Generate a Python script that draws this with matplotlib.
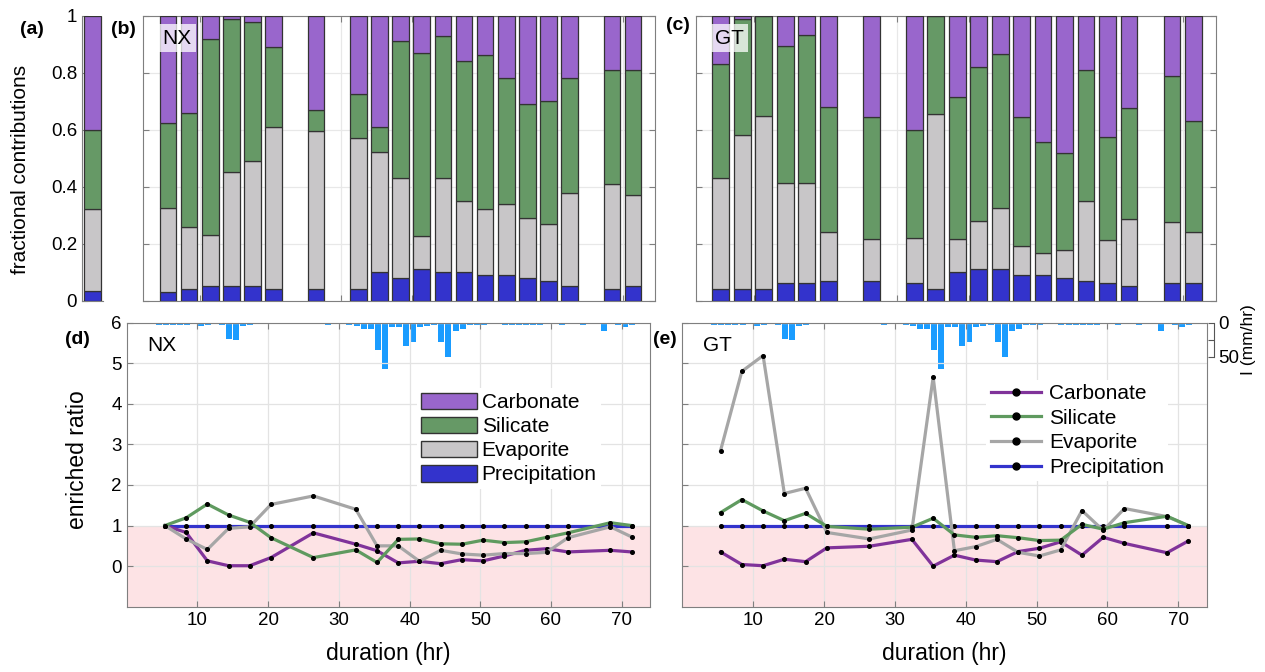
import matplotlib
matplotlib.use('Agg')
import matplotlib.pyplot as plt
import numpy as np
from matplotlib.patches import Patch
from matplotlib.lines import Line2D

plt.rcParams['font.family'] = ['Liberation Sans', 'DejaVu Sans']

# sampling times (hr)
duration = [5.4, 8.4, 11.4, 14.4, 17.4, 20.4, 26.4, 32.4, 35.4, 38.4,
            41.4, 44.4, 47.4, 50.4, 53.4, 56.4, 59.4, 62.4, 68.4, 71.4]

# panel (a): single bar
a_prec, a_evap, a_sil, a_carb = 0.035, 0.285, 0.28, 0.40

# fractional contributions, NX
nx_prec = [0.029, 0.041, 0.051, 0.051, 0.051, 0.041, 0.041, 0.041, 0.099, 0.081,
           0.11, 0.099, 0.099, 0.09, 0.09, 0.081, 0.069, 0.051, 0.041, 0.051]
nx_evap = [0.295, 0.219, 0.178, 0.399, 0.438, 0.568, 0.555, 0.529, 0.421, 0.348,
           0.118, 0.33, 0.251, 0.23, 0.249, 0.208, 0.2, 0.328, 0.369, 0.319]
nx_sil = [0.298, 0.397, 0.689, 0.538, 0.49, 0.28, 0.073, 0.157, 0.088, 0.481,
          0.642, 0.5, 0.49, 0.541, 0.441, 0.4, 0.431, 0.401, 0.399, 0.439]
nx_carb = [0.378, 0.343, 0.082, 0.012, 0.021, 0.111, 0.331, 0.273, 0.392, 0.09,
           0.13, 0.071, 0.16, 0.139, 0.22, 0.311, 0.30, 0.22, 0.191, 0.191]

# fractional contributions, GT
gt_prec = [0.041, 0.041, 0.041, 0.061, 0.061, 0.07, 0.07, 0.061, 0.041, 0.10,
           0.11, 0.11, 0.09, 0.09, 0.081, 0.07, 0.061, 0.051, 0.061, 0.061]
gt_evap = [0.391, 0.54, 0.608, 0.352, 0.352, 0.17, 0.145, 0.159, 0.614, 0.115,
           0.171, 0.214, 0.103, 0.077, 0.097, 0.279, 0.152, 0.236, 0.216, 0.179]
gt_sil = [0.397, 0.407, 0.351, 0.481, 0.519, 0.438, 0.428, 0.379, 0.345, 0.498,
          0.54, 0.54, 0.453, 0.389, 0.339, 0.46, 0.36, 0.39, 0.51, 0.39]
gt_carb = [0.171, 0.012, 0.0, 0.106, 0.068, 0.322, 0.357, 0.401, 0.0, 0.287,
           0.179, 0.136, 0.354, 0.444, 0.483, 0.191, 0.427, 0.323, 0.213, 0.37]

# enriched ratios, NX
nx_r_carb = [1.0, 0.83, 0.13, 0.01, 0.01, 0.21, 0.82, 0.54, 0.38, 0.08,
             0.12, 0.06, 0.16, 0.13, 0.25, 0.39, 0.43, 0.35, 0.39, 0.35]
nx_r_sil = [1.0, 1.19, 1.53, 1.26, 1.08, 0.70, 0.21, 0.40, 0.09, 0.66,
            0.67, 0.55, 0.54, 0.64, 0.58, 0.60, 0.71, 0.82, 1.07, 1.0]
nx_r_evap = [1.0, 0.67, 0.41, 0.93, 0.97, 1.52, 1.73, 1.40, 0.50, 0.50,
             0.12, 0.39, 0.30, 0.27, 0.31, 0.31, 0.34, 0.70, 0.97, 0.72]
nx_r_prec = [1.0] * 20

# enriched ratios, GT
gt_r_carb = [0.35, 0.04, 0.01, 0.17, 0.11, 0.45, 0.49, 0.66, 0.0, 0.27,
             0.15, 0.11, 0.36, 0.44, 0.60, 0.27, 0.71, 0.56, 0.33, 0.62]
gt_r_sil = [1.32, 1.64, 1.36, 1.12, 1.30, 0.98, 0.91, 0.96, 1.18, 0.77,
            0.71, 0.75, 0.70, 0.63, 0.64, 1.03, 0.91, 1.07, 1.23, 1.0]
gt_r_evap = [2.85, 4.80, 5.19, 1.79, 1.92, 0.83, 0.67, 0.89, 4.66, 0.38,
             0.48, 0.66, 0.34, 0.25, 0.40, 1.37, 0.88, 1.42, 1.22, 1.0]
gt_r_prec = [1.0] * 20

# rainfall intensity (mm/hr), hourly bars
rain_hour = [4, 5, 6, 7, 8, 10, 11, 13, 14, 15, 16, 17, 28, 31, 32, 33, 34, 35, 36,
             37, 38, 39, 40, 41, 42, 43, 44, 45, 46, 47, 48, 49, 50, 53, 54, 55, 56,
             57, 58, 61, 64, 67, 69, 70, 71]
rain_rate = [3.5, 3.5, 3.5, 3.5, 3.5, 5.5, 4, 3.5, 24, 26, 5, 3.5, 3.5, 3.5, 5.5, 10, 10, 40, 68,
             6, 6, 35, 28, 7, 4.5, 3.5, 28, 51, 12, 10, 3.5, 3.5, 3.5, 3.5, 3.5, 3.5, 3.5,
             3.5, 3.5, 4, 3.5, 12, 3.5, 7, 3.5]

c_carb, c_sil, c_evap, c_prec = '#9966cc', '#669966', '#c8c6c8', '#3333cc'
l_carb, l_sil, l_evap, l_prec = '#80339a', '#5f9a5f', '#a6a6a6', '#3333cc'
spine_c = '#7f7f7f'

W, H = 1265, 672
fig = plt.figure(figsize=(W / 100, H / 100), dpi=100)


def px_axes(x0, y0, x1, y1):
    return fig.add_axes([x0 / W, 1 - y1 / H, (x1 - x0) / W, (y1 - y0) / H])


def style(ax):
    for s in ax.spines.values():
        s.set_color(spine_c)
    ax.tick_params(direction='in', colors=spine_c, labelcolor='black',
                   labelsize=13.5, length=4, top=True, right=True)


def stack(ax, x, prec, evap, sil, carb, w):
    prec, evap, sil, carb = map(np.array, (prec, evap, sil, carb))
    kw = dict(width=w, edgecolor='#333333', linewidth=0.9, zorder=3)
    ax.bar(x, prec, color=c_prec, **kw)
    ax.bar(x, evap, bottom=prec, color=c_evap, **kw)
    ax.bar(x, sil, bottom=prec + evap, color=c_sil, **kw)
    ax.bar(x, carb, bottom=prec + evap + sil, color=c_carb, **kw)


# panel (a)
ax_a = px_axes(82, 15.7, 103, 300.7)
stack(ax_a, [0], [a_prec], [a_evap], [a_sil], [a_carb], 0.83)
ax_a.set_xlim(-0.5, 0.5)
ax_a.set_ylim(0, 1)
ax_a.set_xticks([])
ax_a.set_yticks([0, 0.2, 0.4, 0.6, 0.8, 1])
ax_a.set_yticklabels(['0', '0.2', '0.4', '0.6', '0.8', '1'])
style(ax_a)
ax_a.tick_params(right=False, top=False)
ax_a.spines['top'].set_visible(False)
ax_a.spines['right'].set_visible(False)

# panels (b), (c)
for (x0, x1), data, tag in [((143.3, 655), (nx_prec, nx_evap, nx_sil, nx_carb), 'NX'),
                            ((695.7, 1215.7), (gt_prec, gt_evap, gt_sil, gt_carb), 'GT')]:
    ax = px_axes(x0, 15.7, x1, 300.7)
    stack(ax, duration, *data, 2.35)
    ax.set_xlim(1.9, 74.5)
    ax.set_ylim(0, 1)
    ax.set_xticks(range(10, 80, 10))
    ax.set_yticks([0, 0.2, 0.4, 0.6, 0.8, 1])
    ax.grid(color='#e8e8e8', linewidth=0.9, zorder=0)
    ax.set_axisbelow(True)
    style(ax)
    ax.tick_params(labelbottom=False, labelleft=False)
    ax.text(0.037, 0.955, tag, transform=ax.transAxes, fontsize=15, va='top', ha='left',
            zorder=6, bbox=dict(facecolor='white', alpha=0.75, edgecolor='none', pad=3))

# panels (d), (e)
series = [('Carbonate', l_carb, c_carb), ('Silicate', l_sil, c_sil),
          ('Evaporite', l_evap, c_evap), ('Precipitation', l_prec, c_prec)]
bottom_axes = []
for (x0, x1), ratios, tag in [((126.7, 650), (nx_r_carb, nx_r_sil, nx_r_evap, nx_r_prec), 'NX'),
                              ((682.3, 1206.7), (gt_r_carb, gt_r_sil, gt_r_evap, gt_r_prec), 'GT')]:
    ax = px_axes(x0, 322.7, x1, 606.7)
    ax.axhspan(-1, 1, color='#fde3e5', zorder=0, linewidth=0)
    # precipitation first so it sits below the others
    for i in [3, 0, 2, 1]:
        name, lc, _ = series[i]
        ax.plot(duration, ratios[i], color=lc, linewidth=2.3, zorder=3 + (i != 3),
                marker='o', markersize=2.6, markerfacecolor='black', markeredgecolor='black')
    ax.set_xlim(0, 74)
    ax.set_ylim(-1, 6)
    ax.set_xticks(range(10, 80, 10))
    ax.set_yticks(range(0, 7))
    ax.grid(color='#e3e3e3', linewidth=0.9, zorder=1)
    ax.set_axisbelow(True)
    style(ax)
    ax.set_xlabel('duration (hr)', fontsize=16.5, labelpad=10)
    ax.text(0.04, 0.92, tag, transform=ax.transAxes, fontsize=15, va='center', ha='left')

    rx = ax.twinx()
    rx.bar(np.array(rain_hour) + 0.5, rain_rate, width=0.85, color='#1a9cff', zorder=2)
    rx.set_ylim(418, 0)
    rx.set_xlim(0, 74)
    bottom_axes.append((ax, rx))

ax_d, rx_d = bottom_axes[0]
ax_e, rx_e = bottom_axes[1]
ax_e.tick_params(labelleft=False)

rx_d.set_yticks([])
for s in rx_d.spines.values():
    s.set_visible(False)

for s in ['top', 'left', 'bottom']:
    rx_e.spines[s].set_visible(False)
rx_e.spines['right'].set_position(('outward', 5))
rx_e.spines['right'].set_bounds(0, 50)
rx_e.spines['right'].set_color('#555555')
rx_e.set_yticks([0, 25, 50])
rx_e.set_yticklabels(['0', '', '50'])
rx_e.tick_params(direction='in', length=4, colors='#555555', labelcolor='black',
                 labelsize=13.5, pad=3)

# legends
patch_handles = [Patch(facecolor=fc, edgecolor='#333333', linewidth=1) for _, _, fc in series]
leg_d = ax_d.legend(patch_handles, [s[0] for s in series], loc='upper left',
                    bbox_to_anchor=(0.535, 0.805), fontsize=15, frameon=True,
                    facecolor='white', edgecolor='none', framealpha=1, fancybox=False,
                    handlelength=2.7, handleheight=0.85, labelspacing=0.22,
                    handletextpad=0.2, borderpad=0.2)
line_handles = [Line2D([0], [0], color=lc, linewidth=2.3, marker='o', markersize=5,
                       markerfacecolor='black', markeredgecolor='black')
                for _, lc, _ in series]
leg_e = ax_e.legend(line_handles, [s[0] for s in series], loc='upper left',
                    bbox_to_anchor=(0.56, 0.835), fontsize=15, frameon=True,
                    facecolor='white', edgecolor='none', framealpha=1, fancybox=False,
                    handlelength=2.4, labelspacing=0.27, handletextpad=0.4, borderpad=0.2)
leg_d.set_zorder(10)
leg_e.set_zorder(10)
ax_d.set_zorder(rx_d.get_zorder() + 1)
ax_d.patch.set_visible(False)
ax_e.set_zorder(rx_e.get_zorder() + 1)
ax_e.patch.set_visible(False)


def ftxt(x, y, s, **kw):
    fig.text(x / W, 1 - y / H, s, **kw)


ftxt(21, 169, 'fractional contributions', rotation=90, fontsize=15, ha='center', va='center')
ftxt(77, 460, 'enriched ratio', rotation=90, fontsize=16.5, ha='center', va='center')
ftxt(1249, 340, 'I (mm/hr)', rotation=90, fontsize=12.5, ha='center', va='center')
for x, y, s in [(32, 30, '(a)'), (123, 30, '(b)'), (678, 25, '(c)'), (77, 340, '(d)'), (665, 340, '(e)')]:
    ftxt(x, y, s, fontsize=14, fontweight='bold', ha='center', va='center')

fig.savefig('out.png', dpi=100)
